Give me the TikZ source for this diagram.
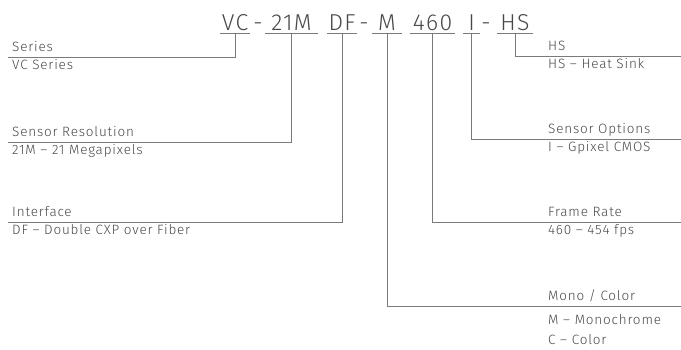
\documentclass[tikz,border=0pt]{standalone}
\usepackage{fontspec}
\setmainfont{Fira Sans}[UprightFont=* Light]
\newfontfamily\wideface{Fira Sans}[UprightFont=* Light, LetterSpace=6]
\definecolor{txt}{HTML}{484848}
\definecolor{ln}{HTML}{7a7a7a}
\begin{document}
\begin{tikzpicture}[x=1pt,y=-1pt,
  code/.style={font=\wideface\fontsize{23}{23}\selectfont, text=txt, inner xsep=0pt, inner ysep=3pt, anchor=base},
  part/.style={code, minimum width=#1},
  lbl/.style={font=\wideface\fontsize{13.5}{15}\selectfont, text=txt, inner sep=0pt, anchor=base west},
  conn/.style={draw=ln, line width=0.9pt},
  uline/.style={draw=ln, line width=0.9pt}]
\useasboundingbox (0,0) rectangle (681,349);
% code parts
\node[part=30] (vc) at (235,30) {VC};
\node[code] (d1) at (258,30) {-};
\node[part=52] (res) at (291.5,30) {21M};
\node[part=30] (df) at (342,30) {DF};
\node[code] (d2) at (364,30) {-};
\node[part=30] (mc) at (387,30) {M};
\node[part=45] (fr) at (432.5,30) {460};
\node[part=17] (so) at (471.5,30) {I};
\node[code] (d3) at (486,30) {-};
\node[part=36] (hs) at (515,30) {HS};
\foreach \n in {vc,res,df,mc,fr,so,hs} \draw[uline] (\n.south west) -- (\n.south east);
% line ends
\coordinate (eSer) at (8,57);
\coordinate (eRes) at (8,142);
\coordinate (eIf) at (8,222);
\coordinate (eHs) at (681,56);
\coordinate (eSo) at (681,139);
\coordinate (eFr) at (681,222);
\coordinate (eMc) at (681,306);
\draw[conn] (vc.south) |- (eSer);
\draw[conn] (res.south) |- (eRes);
\draw[conn] (df.south) |- (eIf);
\draw[conn] (hs.south) |- (eHs);
\draw[conn] (so.south) |- (eSo);
\draw[conn] (fr.south) |- (eFr);
\draw[conn] (mc.south) |- (eMc);
% left labels
\node[lbl] (tSer) at (12,51) {Series};
\node[lbl] (vSer) at (12,69) {VC Series};
\node[lbl] (tRes) at (12,136) {Sensor Resolution};
\node[lbl] (vRes) at (12,154) {21M – 21 Megapixels};
\node[lbl] (tIf) at (12,216) {Interface};
\node[lbl] (vIf) at (12,234) {DF – Double CXP over Fiber};
% right labels
\node[lbl] (tHs) at (548,50) {HS};
\node[lbl] (vHs) at (548,68) {HS – Heat Sink};
\node[lbl] (tSo) at (548,133) {Sensor Options};
\node[lbl] (vSo) at (548,151) {I – Gpixel CMOS};
\node[lbl] (tFr) at (548,216) {Frame Rate};
\node[lbl] (vFr) at (548,234) {460 – 454 fps};
\node[lbl] (tMc) at (548,300) {Mono / Color};
\node[lbl] (vMc) at (548,324) {M – Monochrome};
\node[lbl] (vCc) at (548,344) {C – Color};
\end{tikzpicture}
\end{document}
